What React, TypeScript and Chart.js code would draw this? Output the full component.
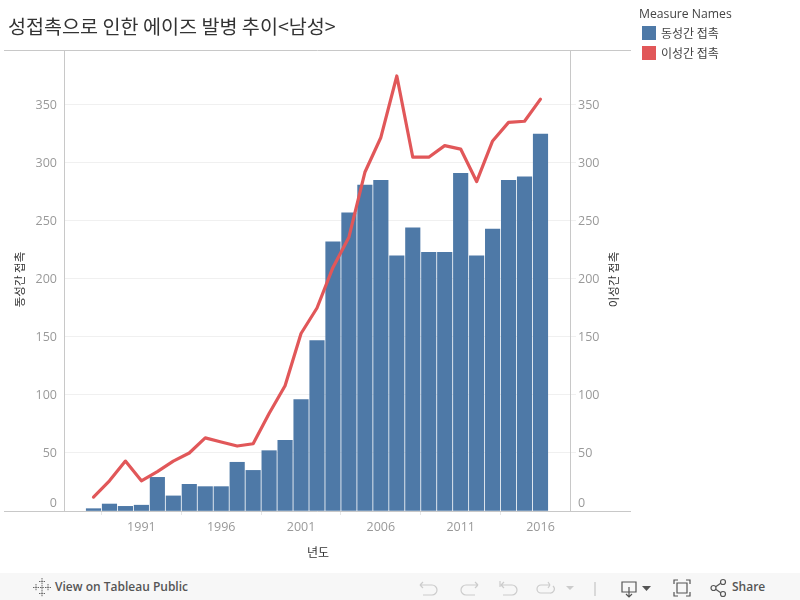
import React, { useEffect, useRef } from "react";
import { Chart, registerables } from "chart.js";

Chart.register(...registerables);

const years = [1988,1989,1990,1991,1992,1993,1994,1995,1996,1997,1998,1999,2000,2001,2002,2003,2004,2005,2006,2007,2008,2009,2010,2011,2012,2013,2014,2015,2016];
const homosexual = [2,6,4,5,29,13,23,21,21,42,35,52,61,96,147,232,257,281,285,220,244,223,223,291,220,243,285,288,325];
const heterosexual = [12,26,43,26,34,43,50,63,59.5,56,58,84,108,153,175,210,236,292,322,375,305,305,315,312,284,319,335,336,355];
const yTicks = [0,50,100,150,200,250,300,350];
const xTicks = [1991,1996,2001,2006,2011,2016];
const seriesNames = ["동성간 접촉", "이성간 접촉"];
const colors = ["#4e79a7", "#e15759"];
const titleText = "성접촉으로 인한 에이즈 발병 추이<남성>";
const xTitle = "년도";
const legendTitle = "Measure Names";

const FONT = "'Open Sans','Noto Sans CJK KR',sans-serif";
const KFONT = "'Noto Sans CJK KR','Open Sans',sans-serif";

const frame = {
  id: "frame",
  beforeDatasetsDraw(chart: any) {
    const { ctx, chartArea: a } = chart;
    ctx.save();
    ctx.strokeStyle = "#c8c8c8";
    ctx.lineWidth = 1;
    ctx.beginPath();
    ctx.moveTo(4, a.top + 0.5); ctx.lineTo(631, a.top + 0.5);
    ctx.moveTo(a.left - 0.5, a.top); ctx.lineTo(a.left - 0.5, a.bottom);
    ctx.moveTo(a.right - 0.5, a.top); ctx.lineTo(a.right - 0.5, a.bottom);
    ctx.moveTo(4, a.bottom + 0.5); ctx.lineTo(631, a.bottom + 0.5);
    ctx.stroke();
    ctx.fillStyle = "#333";
    ctx.font = `11.5px ${KFONT}`;
    ctx.textAlign = "center";
    ctx.textBaseline = "middle";
    const cy = 279.5;
    ([[20, seriesNames[0]], [614, seriesNames[1]]] as [number, string][]).forEach(([x, t]) => {
      ctx.save();
      ctx.translate(x, cy);
      ctx.rotate(-Math.PI / 2);
      ctx.fillText(t, 0, 0);
      ctx.restore();
    });
    ctx.restore();
  },
};

const Icon = ({ x, w = 22, children }: any) => (
  <svg style={{ position: "absolute", left: x, top: 4, width: w, height: 22 }} viewBox={`0 0 ${w} 22`} fill="none">
    {children}
  </svg>
);

export default function App() {
  const ref = useRef<HTMLCanvasElement>(null);
  useEffect(() => {
    const chart = new Chart(ref.current!, {
      type: "bar",
      data: {
        datasets: [
          {
            type: "line",
            label: seriesNames[1],
            data: years.map((x, i) => ({ x, y: heterosexual[i] })),
            borderColor: colors[1],
            borderWidth: 3.2,
            borderCapStyle: "round",
            borderJoinStyle: "round",
            pointRadius: 0,
            tension: 0,
            yAxisID: "y2",
            order: 0,
          },
          {
            type: "bar",
            label: seriesNames[0],
            data: years.map((x, i) => ({ x, y: homosexual[i] })),
            backgroundColor: colors[0],
            barThickness: 14.5,
            yAxisID: "y",
            order: 1,
          },
        ] as any,
      },
      options: {
        animation: false,
        responsive: false,
        layout: { padding: { top: 50, left: 0, right: 0, bottom: 0 } },
        plugins: { legend: { display: false }, title: { display: false }, tooltip: { enabled: false } },
        scales: {
          x: {
            type: "linear",
            offset: false,
            min: 1986.215,
            max: 2017.911,
            afterFit(s: any) { s.height = 89; },
            afterBuildTicks(s: any) { s.ticks = xTicks.map((value) => ({ value })); },
            grid: { display: true, drawOnChartArea: false, drawTicks: true, tickLength: 4, color: "#e6e6e6" },
            border: { display: false },
            ticks: {
              autoSkip: false, maxRotation: 0, padding: 5, color: "#999",
              font: { family: FONT, size: 12.5 },
              callback: (v: any) => String(v),
            },
            title: { display: true, text: xTitle, color: "#333", font: { family: KFONT, size: 12 }, padding: { top: 8, bottom: 40 } },
          },
          y: {
            position: "left",
            min: 0,
            max: 397.4,
            afterFit(s: any) { s.width = 65; },
            afterBuildTicks(s: any) { s.ticks = yTicks.map((value) => ({ value })); },
            grid: { color: "#f0f0f0", tickLength: 0 },
            border: { display: false },
            ticks: {
              padding: 8, color: "#999", font: { family: FONT, size: 12.5 },
              callback: (v: any) => (v === 0 ? ["0", ""] : String(v)),
            },
          },
          y2: {
            position: "right",
            min: 0,
            max: 397.4,
            afterFit(s: any) { s.width = 229; },
            afterBuildTicks(s: any) { s.ticks = yTicks.map((value) => ({ value })); },
            grid: { drawOnChartArea: false, color: "#f0f0f0", tickLength: 5 },
            border: { display: false },
            ticks: {
              padding: 2, color: "#999", font: { family: FONT, size: 12.5 },
              callback: (v: any) => (v === 0 ? ["0", ""] : String(v)),
            },
          },
        },
      },
      plugins: [frame],
    } as any);
    return () => chart.destroy();
  }, []);

  return (
    <div style={{ position: "fixed", left: 0, top: 0, width: 800, height: 600, background: "#fff", overflow: "hidden" }}>
      <canvas ref={ref} width={800} height={600} style={{ position: "absolute", left: 0, top: 0, width: 800, height: 600 }} />
      <div style={{ position: "absolute", left: 8, top: 12, fontFamily: KFONT, fontSize: 19.6, lineHeight: "28px", color: "#333", whiteSpace: "nowrap" }}>{titleText}</div>
      <div style={{ position: "absolute", left: 639, top: 6, fontFamily: FONT, fontSize: 12.2, lineHeight: "16px", color: "#444" }}>{legendTitle}</div>
      {seriesNames.map((n, i) => (
        <div key={n}>
          <div style={{ position: "absolute", left: 642, top: 26 + i * 20, width: 14, height: 14, background: colors[i] }} />
          <div style={{ position: "absolute", left: 661, top: 25 + i * 20, fontFamily: KFONT, fontSize: 12, lineHeight: "16px", color: "#444" }}>{n}</div>
        </div>
      ))}
      <div style={{ position: "absolute", left: 0, top: 573, width: 800, height: 27, background: "#f7f7f7" }}>
        <Icon x={32} w={20}>
          <g stroke="#666" strokeWidth="1" strokeDasharray="1.5 0.8">
            <path d="M10 1v7M7 4.5h6M10 13v7M7 16.5h6M4 7v7M1 10.5h6M16 7v7M13 10.5h6M10 8v5M8 10.5h4" />
          </g>
        </Icon>
        <div style={{ position: "absolute", left: 55, top: 5, fontFamily: FONT, fontSize: 12, lineHeight: "18px", color: "#555", fontWeight: 600 }}>View on Tableau Public</div>
        <Icon x={418}><path d="M2 8h12a5 5 0 0 1 0 10H5M2 8l3-3M2 8l3 3" stroke="#ccc" strokeWidth="1.2" /></Icon>
        <Icon x={458}><path d="M20 8H8a5 5 0 0 0 0 10h9M20 8l-3-3M20 8l-3 3" stroke="#ccc" strokeWidth="1.2" /></Icon>
        <Icon x={498}><path d="M2 4v6M3 8h11a5 5 0 0 1 0 10H5M3 8l3-3M3 8l3 3" stroke="#ccc" strokeWidth="1.2" /></Icon>
        <Icon x={535}><path d="M15 8H6a4 4 0 0 0 0 8h9a4 4 0 0 0 3-7M15 8l-2-3M15 8l-2 3" stroke="#ccc" strokeWidth="1.2" /></Icon>
        <Icon x={563} w={14}><path d="M3 9h8l-4 4z" fill="#ccc" /></Icon>
        <Icon x={590} w={10}><path d="M5 5v14" stroke="#bbb" strokeWidth="1" /></Icon>
        <Icon x={620}><path d="M2 5h14v10H2zM9 10v9M6 17l3 3 3-3" stroke="#555" strokeWidth="1.2" /></Icon>
        <Icon x={641} w={12}><path d="M1 9h9l-4.5 5z" fill="#555" /></Icon>
        <Icon x={672}><path d="M2 7V3h4M14 3h4v4M18 15v4h-4M6 19H2v-4M5 6h10v10H5z" stroke="#555" strokeWidth="1.2" /></Icon>
        <Icon x={710}><g stroke="#555" strokeWidth="1.2"><circle cx="3.5" cy="11" r="2.5" /><circle cx="13" cy="5" r="2.5" /><circle cx="13" cy="17" r="2.5" /><path d="M5.7 9.7l5-3.4M5.7 12.3l5 3.4" /></g></Icon>
        <div style={{ position: "absolute", left: 732, top: 5, fontFamily: FONT, fontSize: 12, lineHeight: "18px", color: "#555", fontWeight: 600 }}>Share</div>
      </div>
    </div>
  );
}
